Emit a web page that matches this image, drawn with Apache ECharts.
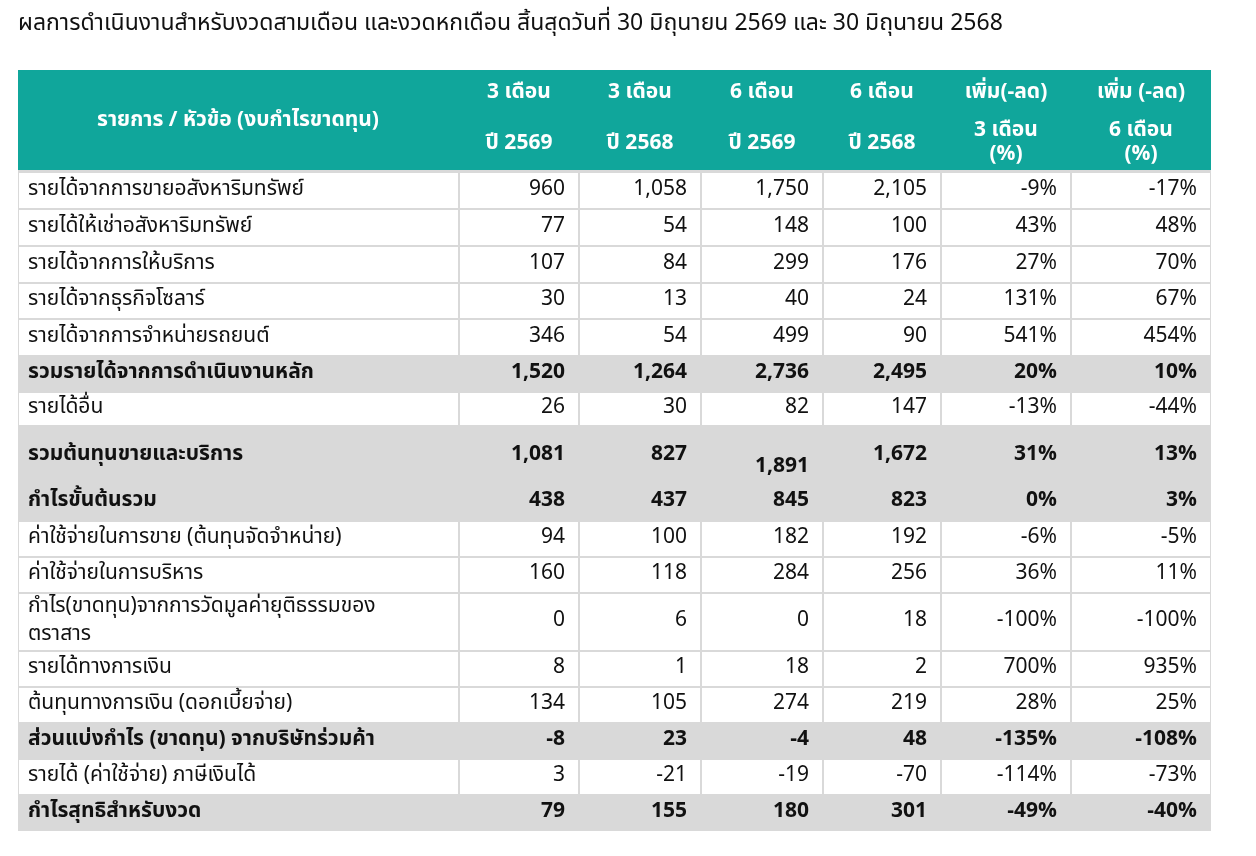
<!DOCTYPE html>
<html>
<head>
<meta charset="utf-8">
<script src="https://cdn.jsdelivr.net/npm/echarts@6/dist/echarts.min.js"></script>
<style>html,body{margin:0;background:#fff}#main{width:1256px;height:856px}</style>
</head>
<body>
<div id="main"></div>
<script>
var title = 'ผลการดำเนินงานสำหรับงวดสามเดือน และงวดหกเดือน สิ้นสุดวันที่ 30 มิถุนายน 2569 และ 30 มิถุนายน 2568';
var headTop = ['3 เดือน', '3 เดือน', '6 เดือน', '6 เดือน', 'เพิ่ม(-ลด)', 'เพิ่ม (-ลด)'];
var headBottom = ['ปี 2569', 'ปี 2568', 'ปี 2569', 'ปี 2568', '3 เดือน\n(%)', '6 เดือน\n(%)'];
var labels = [
  'รายได้จากการขายอสังหาริมทรัพย์', 'รายได้ให้เช่าอสังหาริมทรัพย์', 'รายได้จากการให้บริการ',
  'รายได้จากธุรกิจโซลาร์', 'รายได้จากการจำหน่ายรถยนต์', 'รวมรายได้จากการดำเนินงานหลัก',
  'รายได้อื่น', 'รวมต้นทุนขายและบริการ', 'กำไรขั้นต้นรวม', 'ค่าใช้จ่ายในการขาย (ต้นทุนจัดจำหน่าย)',
  'ค่าใช้จ่ายในการบริหาร', 'กำไร(ขาดทุน)จากการวัดมูลค่ายุติธรรมของ\nตราสาร', 'รายได้ทางการเงิน',
  'ต้นทุนทางการเงิน (ดอกเบี้ยจ่าย)', 'ส่วนแบ่งกำไร (ขาดทุน) จากบริษัทร่วมค้า',
  'รายได้ (ค่าใช้จ่าย) ภาษีเงินได้', 'กำไรสุทธิสำหรับงวด'
];
var q2569 = [960, 77, 107, 30, 346, 1520, 26, 1081, 438, 94, 160, 0, 8, 134, -8, 3, 79];
var q2568 = [1058, 54, 84, 13, 54, 1264, 30, 827, 437, 100, 118, 6, 1, 105, 23, -21, 155];
var h2569 = [1750, 148, 299, 40, 499, 2736, 82, 1891, 845, 182, 284, 0, 18, 274, -4, -19, 180];
var h2568 = [2105, 100, 176, 24, 90, 2495, 147, 1672, 823, 192, 256, 18, 2, 219, 48, -70, 301];
var pct3 = [-9, 43, 27, 131, 541, 20, -13, 31, 0, -6, 36, -100, 700, 28, -135, -114, -49];
var pct6 = [-17, 48, 70, 67, 454, 10, -44, 13, 3, -5, 11, -100, 935, 25, -108, -73, -40];
var boldRows = [5, 7, 8, 14, 16];

// layout
var colEdges = [18, 459, 579, 701, 823, 941, 1071, 1211];
var rowEdges = [172, 209, 246, 283, 319, 356, 392, 426, 473, 521, 557, 593, 651, 687, 723, 759, 795, 831];
var FONT = '"Noto Sans Thai", "Noto Sans", Tahoma, sans-serif';
var GREY = '#d9d9d9';

function fmt(v) { return v.toLocaleString('en-US'); }

var els = [];
els.push({ type: 'text', left: 18, top: 14, style: { text: title, font: '23px ' + FONT, fill: '#111' } });
// outer background (grid colour)
els.push({ type: 'rect', shape: { x: 18, y: 70, width: 1193, height: 761 }, style: { fill: GREY } });
els.push({ type: 'rect', shape: { x: 18, y: 70, width: 1193, height: 100 }, style: { fill: '#10a69b' } });
els.push({ type: 'text', x: 238, y: 122, style: { text: 'รายการ / หัวข้อ (งบกำไรขาดทุน)', font: 'bold 21px ' + FONT, fill: '#fff', align: 'center', verticalAlign: 'middle' } });
for (var c = 0; c < 6; c++) {
  var cx = (colEdges[c + 1] + colEdges[c + 2]) / 2;
  els.push({ type: 'text', x: cx, y: 94, style: { text: headTop[c], font: 'bold 21px ' + FONT, fill: '#fff', align: 'center', verticalAlign: 'middle' } });
  els.push({ type: 'text', x: cx, y: c < 4 ? 145 : 144, style: { text: headBottom[c], font: 'bold 21px ' + FONT, fill: '#fff', align: 'center', verticalAlign: 'middle', lineHeight: 24 } });
}
var cols = [q2569, q2568, h2569, h2568, pct3, pct6];
for (var r = 0; r < labels.length; r++) {
  var y0 = rowEdges[r], y1 = rowEdges[r + 1];
  var bold = boldRows.indexOf(r) >= 0;
  var ym = (y0 + y1) / 2;
  if (r === 7) ym = 456; if (r === 8) ym = 502;
  if (!bold) {
    for (var k = 0; k < 7; k++) {
      els.push({ type: 'rect', shape: { x: colEdges[k] + 1, y: y0 + 1, width: colEdges[k + 1] - colEdges[k] - 2, height: y1 - y0 - 2 }, style: { fill: '#fff' } });
    }
  }
  var f = (bold ? 'bold ' : '') + '21px ' + FONT;
  els.push({ type: 'text', x: 28, y: ym, style: { text: labels[r], font: f, fill: '#111', verticalAlign: 'middle', lineHeight: 28 } });
  for (var c2 = 0; c2 < 6; c2++) {
    var v = cols[c2][r];
    var txt = c2 < 4 ? fmt(v) : v + '%';
    var yy = ym;
    if (r === 7 && c2 === 2) yy = 468;
    els.push({ type: 'text', x: colEdges[c2 + 2] - 14, y: yy, style: { text: txt, font: f, fill: '#111', align: 'right', verticalAlign: 'middle' } });
  }
}

var chart = echarts.init(document.getElementById('main'));
chart.setOption({ animation: false, graphic: { elements: els } });
</script>
</body>
</html>
